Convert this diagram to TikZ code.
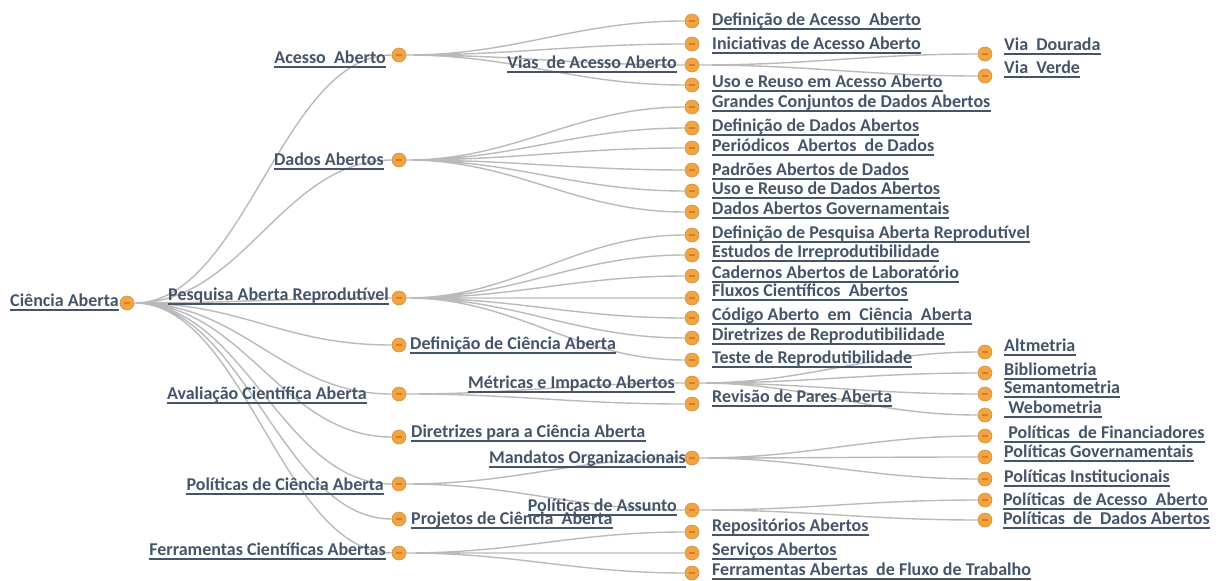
\documentclass[tikz,border=0pt]{standalone}
\usepackage{fontspec}
\setmainfont{Carlito}
\definecolor{txtc}{RGB}{68,84,106}
\definecolor{dotc}{RGB}{241,164,66}
\definecolor{minc}{RGB}{212,126,44}
\definecolor{linkc}{RGB}{186,186,186}
\pgfdeclarelayer{bg}
\pgfsetlayers{bg,main}
\begin{document}
\begin{tikzpicture}[x=1pt, y=-1pt,
  dot/.style={circle, fill=dotc, draw=dotc!88!black, line width=.6pt, minimum size=14pt, inner sep=0pt,
    path picture={\draw[minc, line width=1.1pt] ([xshift=-3pt]path picture bounding box.center) -- ([xshift=3pt]path picture bounding box.center);}},
  lbl/.style={text=txtc, font=\fontsize{18}{20}\selectfont\bfseries, inner sep=0pt,
    append after command={([yshift=-4pt]\tikzlastnode.base west) edge[draw=txtc, line width=1.2pt] ([yshift=-4pt]\tikzlastnode.base east)}},
  link/.style={draw=linkc, line width=1.4pt, out=0, in=180, distance=110pt}]
\useasboundingbox (0,0) rectangle (1221,581);

%root
\node[dot] (ca) at (127,303) {} node[lbl, anchor=base east] (ca-t) at (119,306) {Ciência Aberta};

%first level
\node[dot] (aa) at (399,55) {} node[lbl, anchor=base east] (aa-t) at (386,63) {Acesso~~Aberto};
\node[dot] (da) at (399,160) {} node[lbl, anchor=base east] (da-t) at (384,165) {Dados Abertos};
\node[dot] (par) at (399,298) {} node[lbl, anchor=base east] (par-t) at (389,300) {Pesquisa Aberta Reprodutível};
\node[dot] (dca) at (399,345) {} node[lbl, anchor=base west] (dca-t) at (410,349) {Definição de Ciência Aberta};
\node[dot] (aca) at (399,394) {} node[lbl, anchor=base east] (aca-t) at (367,399) {Avaliação Científica Aberta};
\node[dot] (dpca) at (399,437) {} node[lbl, anchor=base west] (dpca-t) at (411,437) {Diretrizes para a Ciência Aberta};
\node[dot] (pca) at (399,484) {} node[lbl, anchor=base east] (pca-t) at (384,490) {Políticas de Ciência Aberta};
\node[dot] (pjca) at (399,519) {} node[lbl, anchor=base west] (pjca-t) at (411,524) {Projetos de Ciência~~Aberta};
\node[dot] (fca) at (399,553) {} node[lbl, anchor=base east] (fca-t) at (386,555) {Ferramentas Científicas Abertas};

%second level
\node[dot] (daa) at (692,21) {} node[lbl, anchor=base west] (daa-t) at (712,25) {Definição de Acesso~~Aberto};
\node[dot] (iaa) at (692,44) {} node[lbl, anchor=base west] (iaa-t) at (712,49) {Iniciativas de Acesso Aberto};
\node[dot] (vaa) at (692,65) {} node[lbl, anchor=base east] (vaa-t) at (677,68) {Vias~~de Acesso Aberto};
\node[dot] (uaa) at (692,85) {} node[lbl, anchor=base west] (uaa-t) at (712,87) {Uso e Reuso em Acesso Aberto};
\node[dot] (gcd) at (692,107) {} node[lbl, anchor=base west] (gcd-t) at (712,107) {Grandes Conjuntos de Dados Abertos};
\node[dot] (dda) at (692,128) {} node[lbl, anchor=base west] (dda-t) at (712,131) {Definição de Dados Abertos};
\node[dot] (pad) at (692,148) {} node[lbl, anchor=base west] (pad-t) at (712,151) {Periódicos~~Abertos~~de Dados};
\node[dot] (pdad) at (692,170) {} node[lbl, anchor=base west] (pdad-t) at (712,175) {Padrões Abertos de Dados};
\node[dot] (urda) at (692,191) {} node[lbl, anchor=base west] (urda-t) at (712,194) {Uso e Reuso de Dados Abertos};
\node[dot] (dag) at (692,212) {} node[lbl, anchor=base west] (dag-t) at (712,214) {Dados Abertos Governamentais};
\node[dot] (dpar) at (692,235) {} node[lbl, anchor=base west] (dpar-t) at (712,238) {Definição de Pesquisa Aberta Reprodutível};
\node[dot] (eir) at (692,255) {} node[lbl, anchor=base west] (eir-t) at (712,257) {Estudos de Irreprodutibilidade};
\node[dot] (cal) at (692,276) {} node[lbl, anchor=base west] (cal-t) at (712,278) {Cadernos Abertos de Laboratório};
\node[dot] (fcab) at (692,298) {} node[lbl, anchor=base west] (fcab-t) at (712,296) {Fluxos Científicos~~Abertos};
\node[dot] (cac) at (692,318) {} node[lbl, anchor=base west] (cac-t) at (712,320) {Código Aberto~~em~~Ciência~~Aberta};
\node[dot] (drep) at (692,338) {} node[lbl, anchor=base west] (drep-t) at (712,340) {Diretrizes de Reprodutibilidade};
\node[dot] (trep) at (692,360) {} node[lbl, anchor=base west] (trep-t) at (712,363) {Teste de Reprodutibilidade};
\node[dot] (mia) at (692,383) {} node[lbl, anchor=base east] (mia-t) at (675,388) {Métricas e Impacto Abertos};
\node[dot] (rpa) at (692,404) {} node[lbl, anchor=base west] (rpa-t) at (712,402) {Revisão de Pares Aberta};
\node[dot] (mo) at (692,458) {} node[lbl, anchor=base east] (mo-t) at (686,463) {Mandatos Organizacionais};
\node[dot] (pas) at (692,510) {} node[lbl, anchor=base east] (pas-t) at (677,511) {Políticas de Assunto};
\node[dot] (ra) at (692,532) {} node[lbl, anchor=base west] (ra-t) at (712,531) {Repositórios Abertos};
\node[dot] (sa) at (692,553) {} node[lbl, anchor=base west] (sa-t) at (712,555) {Serviços Abertos};
\node[dot] (faft) at (692,573) {} node[lbl, anchor=base west] (faft-t) at (712,575) {Ferramentas Abertas~~de Fluxo de Trabalho};

%third level
\node[dot] (vd) at (985,54) {} node[lbl, anchor=base west] (vd-t) at (1004,50) {Via~~Dourada};
\node[dot] (vv) at (985,76) {} node[lbl, anchor=base west] (vv-t) at (1004,73) {Via~~Verde};
\node[dot] (alt) at (985,352) {} node[lbl, anchor=base west] (alt-t) at (1004,351) {Altmetria};
\node[dot] (bib) at (985,373) {} node[lbl, anchor=base west] (bib-t) at (1004,375) {Bibliometria};
\node[dot] (sem) at (985,394) {} node[lbl, anchor=base west] (sem-t) at (1004,393) {Semantometria};
\node[dot] (web) at (985,415) {} node[lbl, anchor=base west] (web-t) at (1004,413) {\ Webometria};
\node[dot] (pfin) at (985,436) {} node[lbl, anchor=base west] (pfin-t) at (1004,438) {\ Políticas~~de Financiadores};
\node[dot] (pgov) at (985,457) {} node[lbl, anchor=base west] (pgov-t) at (1004,457) {Políticas Governamentais};
\node[dot] (pins) at (985,479) {} node[lbl, anchor=base west] (pins-t) at (1004,482) {Políticas Institucionais};
\node[dot] (paa) at (985,500) {} node[lbl, anchor=base west] (paa-t) at (1003,505) {Políticas~~de Acesso~~Aberto};
\node[dot] (pda) at (985,520) {} node[lbl, anchor=base west] (pda-t) at (1003,524) {Políticas~~de~~Dados Abertos};

%links
\begin{pgfonlayer}{bg}
\fill[white] (0,0) rectangle (1221,581);
\draw[link] (ca) to (aa) (ca) to (da) (ca) to (par) (ca) to (dca) (ca) to (aca)
  (ca) to (dpca) (ca) to (pca) (ca) to (pjca) (ca) to (fca);
\draw[link] (aa) to (daa) (aa) to (iaa) (aa) to (vaa) (aa) to (uaa)
  (vaa) to (vd) (vaa) to (vv);
\draw[link] (da) to (gcd) (da) to (dda) (da) to (pad) (da) to (pdad) (da) to (urda) (da) to (dag);
\draw[link] (par) to (dpar) (par) to (eir) (par) to (cal) (par) to (fcab) (par) to (cac)
  (par) to (drep) (par) to (trep);
\draw[link] (aca) to (mia) (aca) to (rpa)
  (mia) to (alt) (mia) to (bib) (mia) to (sem) (mia) to (web);
\draw[link] (pca) to (mo) (pca) to (pas)
  (mo) to (pfin) (mo) to (pgov) (mo) to (pins) (pas) to (paa) (pas) to (pda);
\draw[link] (fca) to (ra) (fca) to (sa) (fca) to (faft);
\end{pgfonlayer}
\end{tikzpicture}
\end{document}
